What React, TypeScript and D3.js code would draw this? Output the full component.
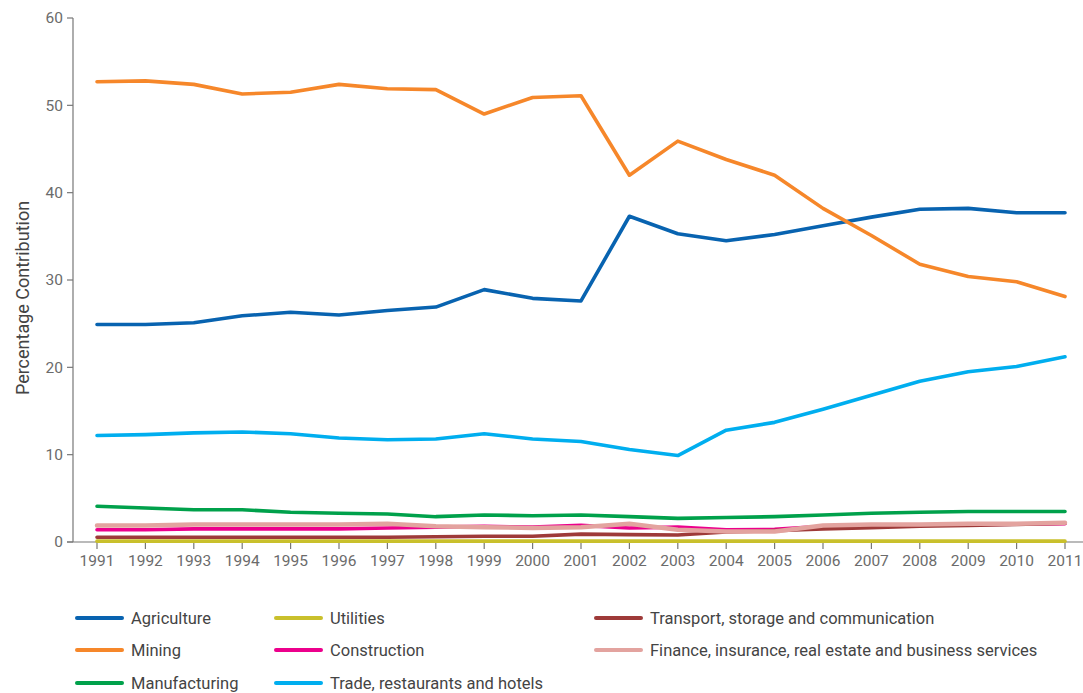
import React from "react";
import * as d3 from "d3";

const years = [1991,1992,1993,1994,1995,1996,1997,1998,1999,2000,2001,2002,2003,2004,2005,2006,2007,2008,2009,2010,2011];
const yTicks = [0, 10, 20, 30, 40, 50, 60];

const agriculture = [24.9,24.9,25.1,25.9,26.3,26.0,26.5,26.9,28.9,27.9,27.6,37.3,35.3,34.5,35.2,36.2,37.2,38.1,38.2,37.7,37.7];
const mining = [52.7,52.8,52.4,51.3,51.5,52.4,51.9,51.8,49.0,50.9,51.1,42.0,45.9,43.8,42.0,38.2,35.1,31.8,30.4,29.8,28.1];
const manufacturing = [4.1,3.9,3.7,3.7,3.4,3.3,3.2,2.9,3.1,3.0,3.1,2.9,2.7,2.8,2.9,3.1,3.3,3.4,3.5,3.5,3.5];
const utilities = [0.1,0.1,0.1,0.1,0.1,0.1,0.1,0.1,0.1,0.1,0.1,0.1,0.1,0.1,0.1,0.1,0.1,0.1,0.1,0.1,0.1];
const construction = [1.4,1.4,1.5,1.5,1.5,1.5,1.6,1.7,1.8,1.7,1.9,1.6,1.7,1.4,1.45,1.8,1.9,1.95,2.0,2.05,2.1];
const trade = [12.2,12.3,12.5,12.6,12.4,11.9,11.7,11.8,12.4,11.8,11.5,10.6,9.9,12.8,13.7,15.2,16.8,18.4,19.5,20.1,21.2];
const transport = [0.55,0.55,0.55,0.55,0.55,0.55,0.55,0.6,0.65,0.65,0.9,0.85,0.8,1.15,1.3,1.5,1.65,1.8,1.9,2.0,2.15];
const finance = [1.9,1.9,2.0,2.0,2.0,2.0,2.1,1.8,1.7,1.6,1.7,2.1,1.4,1.2,1.2,1.9,2.0,2.0,2.1,2.1,2.2];

const seriesNames = [
  "Agriculture",
  "Mining",
  "Manufacturing",
  "Utilities",
  "Construction",
  "Trade, restaurants and hotels",
  "Transport, storage and communication",
  "Finance, insurance, real estate and business services",
];
const seriesValues = [agriculture, mining, manufacturing, utilities, construction, trade, transport, finance];
const seriesColors = ["#0863b0", "#f6872a", "#00a14b", "#c9c02c", "#ec008c", "#00aeef", "#9e3a39", "#e3a39f"];

const W = 1083;
const H = 693;
const FONT = "Roboto, 'Liberation Sans', sans-serif";
const TXT = "#6b6b6b";
const AXIS = "#777777";

export default function App() {
  const x = d3.scaleLinear().domain([1991, 2011]).range([97, 1065]);
  const y = d3.scaleLinear().domain([0, 60]).range([542, 18]);
  const line = d3
    .line<number>()
    .x((_, i) => x(years[i]))
    .y((v) => y(v));

  const legendCols = [
    { lx: 77, tx: 131 },
    { lx: 276, tx: 330 },
    { lx: 596, tx: 650 },
  ];
  const legendRows = [618, 650, 683];

  return (
    <svg
      width={W}
      height={H}
      style={{ position: "absolute", left: 0, top: 0, background: "#fff" }}
      fontFamily={FONT}
    >
      {/* y axis */}
      <line x1={73} x2={73} y1={y(60)} y2={y(0)} stroke={AXIS} strokeWidth={1.2} />
      {yTicks.map((t) => (
        <g key={t}>
          <line x1={67} x2={73} y1={y(t)} y2={y(t)} stroke={AXIS} strokeWidth={1.2} />
          <text x={63} y={y(t)} dy="0.35em" textAnchor="end" fontSize={15.5} fill={TXT}>
            {t}
          </text>
        </g>
      ))}
      {/* x axis */}
      <line x1={67} x2={W} y1={y(0)} y2={y(0)} stroke={AXIS} strokeWidth={1.2} />
      {years.map((yr) => (
        <g key={yr}>
          <line x1={x(yr)} x2={x(yr)} y1={y(0)} y2={y(0) + 7} stroke={AXIS} strokeWidth={1.2} />
          <text x={x(yr)} y={y(0) + 24} textAnchor="middle" fontSize={15.5} fill={TXT}>
            {yr}
          </text>
        </g>
      ))}
      <text
        transform={`translate(29,${298}) rotate(-90)`}
        textAnchor="middle"
        fontSize={18}
        fill="#444"
      >
        Percentage Contribution
      </text>
      {/* lines */}
      {seriesValues.map((vals, i) => (
        <path
          key={seriesNames[i]}
          d={line(vals) || ""}
          fill="none"
          stroke={seriesColors[i]}
          strokeWidth={i === 7 ? 4.5 : 3.6}
          strokeLinejoin="round"
          strokeLinecap="round"
        />
      ))}
      {/* legend */}
      {seriesNames.map((name, i) => {
        const c = legendCols[Math.floor(i / 3)];
        const r = legendRows[i % 3];
        return (
          <g key={name}>
            <line x1={c.lx} x2={c.lx + 45} y1={r} y2={r} stroke={seriesColors[i]} strokeWidth={4} strokeLinecap="round" />
            <text x={c.tx} y={r} dy="0.35em" fontSize={16.5} fill="#444">
              {name}
            </text>
          </g>
        );
      })}
    </svg>
  );
}
